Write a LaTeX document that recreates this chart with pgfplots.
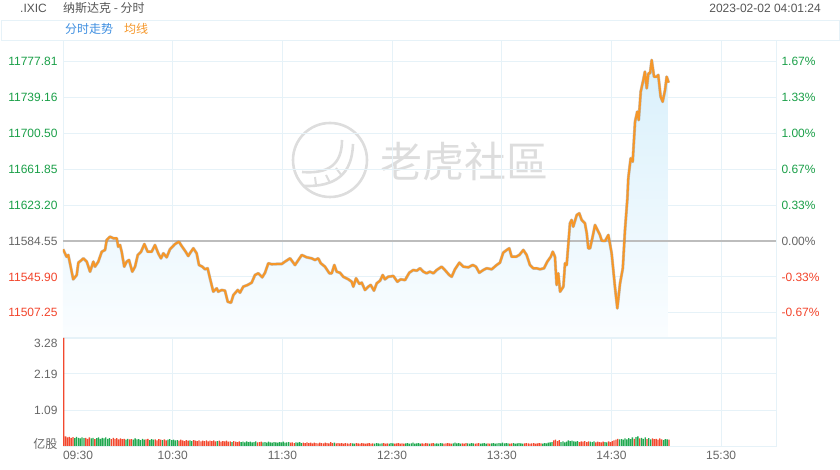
\documentclass[border=0pt]{standalone}
\usepackage{pgfplots}
\pgfplotsset{compat=1.18}
\usepackage{pgfplotstable}
\usepackage{fontspec}
\setmainfont{Liberation Sans}
\newfontfamily\cjk{Noto Sans CJK SC}
\definecolor{gridc}{HTML}{E6F2F8}
\definecolor{upg}{HTML}{1A9F48}
\definecolor{dnr}{HTML}{F2442B}
\definecolor{lblg}{HTML}{666666}
\definecolor{hdr}{HTML}{555555}
\definecolor{linec}{HTML}{F5972A}
\definecolor{volr}{HTML}{F2482E}
\definecolor{volg}{HTML}{1FA84F}
\definecolor{wm}{HTML}{DDDDDD}
\definecolor{blueT}{HTML}{3D8EE0}
\definecolor{zeroc}{HTML}{BDBDBD}
\definecolor{fillT}{HTML}{D9F0FB}
\definecolor{fillB}{HTML}{FAFDFF}
\newcommand\fs{\fontsize{12}{14}\selectfont}

\pgfplotstableread[row sep=\\]{
t p\\
0 11575.6\\ 2.0 11567.6\\ 2.9 11569.5\\ 5.6 11543.3\\ 7.5 11547.9\\ 8.4 11561.2\\
10.2 11564.1\\ 11.1 11565.9\\ 13.0 11562.3\\ 14.8 11551.5\\ 16.6 11562.3\\ 17.5 11556.9\\
19.3 11562.3\\ 21.2 11573.0\\ 23.0 11574.9\\ 23.9 11585.6\\ 25.7 11589.2\\ 27.5 11587.5\\
29.4 11587.5\\ 30.2 11578.4\\ 31.2 11580.2\\ 32.1 11573.0\\ 33.5 11556.9\\ 34.8 11562.3\\
36.1 11564.1\\ 37.9 11551.5\\ 39.4 11556.9\\ 40.9 11569.5\\ 42.7 11573.0\\ 44.5 11581.3\\
46.3 11573.0\\ 48.5 11573.0\\ 50.3 11580.2\\ 52.1 11571.3\\ 53.6 11565.9\\ 54.9 11571.3\\
56.7 11567.0\\ 58.5 11575.6\\ 61.3 11581.3\\ 63.4 11583.8\\ 64.9 11579.2\\ 67.1 11573.0\\
68.5 11568.4\\ 70.0 11573.0\\ 71.3 11576.7\\ 73.1 11571.3\\ 74.4 11558.7\\ 76.2 11556.9\\
77.7 11554.1\\ 79.1 11555.2\\ 80.4 11544.4\\ 82.2 11530.0\\ 84.1 11533.6\\ 84.9 11530.0\\
86.8 11531.8\\ 88.6 11531.1\\ 90.1 11519.2\\ 91.9 11518.1\\ 93.2 11526.4\\ 95.6 11531.8\\
96.8 11528.9\\ 98.6 11535.4\\ 101.0 11537.2\\ 103.2 11539.7\\ 105.0 11547.9\\ 106.8 11549.8\\
109.0 11545.5\\ 110.5 11550.4\\ 112.3 11560.6\\ 114.2 11559.5\\ 116.9 11559.8\\ 119.6 11559.8\\
121.4 11562.3\\ 124.2 11565.9\\ 126.9 11558.7\\ 130.6 11569.5\\ 133.3 11567.0\\ 136.0 11565.9\\
137.8 11564.1\\ 139.6 11565.9\\ 141.0 11560.6\\ 143.3 11556.9\\ 145.7 11549.8\\ 147.0 11549.8\\
148.4 11558.7\\ 149.7 11551.5\\ 151.5 11550.4\\ 153.3 11546.1\\ 156.1 11543.3\\ 157.9 11540.7\\
158.8 11535.4\\ 160.3 11544.4\\ 162.1 11538.3\\ 163.4 11539.7\\ 165.2 11531.8\\ 167.0 11535.4\\
168.3 11537.2\\ 170.1 11531.1\\ 171.6 11539.0\\ 173.4 11541.8\\ 174.9 11547.9\\ 176.1 11543.3\\
177.9 11546.1\\ 180.7 11546.9\\ 182.9 11540.7\\ 184.7 11543.3\\ 187.1 11542.5\\ 189.4 11550.4\\
191.6 11553.3\\ 193.5 11552.6\\ 195.3 11555.2\\ 197.1 11551.5\\ 198.9 11549.8\\ 200.7 11551.5\\
202.6 11549.8\\ 204.4 11553.3\\ 207.1 11556.9\\ 208.9 11553.3\\ 211.3 11547.9\\ 212.6 11546.1\\
214.4 11554.1\\ 216.8 11561.2\\ 219.0 11556.9\\ 221.7 11556.2\\ 224.1 11558.7\\ 225.9 11556.9\\
227.7 11550.4\\ 229.9 11553.3\\ 231.8 11555.2\\ 234.5 11554.1\\ 237.2 11558.7\\ 239.0 11561.2\\
240.8 11572.0\\ 242.7 11574.9\\ 244.1 11576.7\\ 245.4 11567.6\\ 247.8 11567.6\\ 249.6 11569.5\\
251.8 11574.9\\ 253.6 11569.5\\ 255.4 11558.7\\ 257.2 11555.2\\ 259.1 11555.2\\ 260.9 11554.1\\
263.1 11555.2\\ 264.9 11562.3\\ 266.8 11567.6\\ 267.9 11573.0\\ 269.1 11567.6\\ 270.0 11537.2\\
270.9 11549.8\\ 271.9 11530.0\\ 273.7 11535.4\\ 274.6 11560.6\\ 275.5 11558.7\\ 277.3 11603.6\\
278.2 11607.2\\ 279.1 11600.0\\ 281.0 11612.5\\ 282.4 11614.4\\ 283.7 11607.2\\ 285.5 11603.6\\
286.5 11592.8\\ 287.3 11576.7\\ 288.3 11576.7\\ 289.7 11589.2\\ 291.0 11601.8\\ 292.8 11594.6\\
293.7 11591.0\\ 294.7 11584.9\\ 296.5 11584.6\\ 298.3 11591.0\\ 300.1 11571.3\\ 301.9 11535.4\\
303.2 11512.1\\ 304.7 11539.0\\ 306.2 11555.2\\ 307.4 11596.4\\ 308.7 11630.5\\ 309.2 11652.1\\
310.5 11673.6\\ 311.6 11669.9\\ 312.9 11713.0\\ 314.1 11723.8\\ 314.9 11714.8\\ 316.0 11745.3\\
317.4 11757.9\\ 318.3 11766.8\\ 319.3 11749.0\\ 320.2 11765.1\\ 321.1 11765.1\\ 322.0 11779.4\\
323.3 11761.4\\ 324.7 11761.4\\ 325.6 11763.3\\ 326.9 11739.9\\ 328.0 11734.5\\ 329.3 11747.1\\
330.2 11761.4\\ 331.3 11755.0\\
}\price

\pgfplotstableread[row sep=\\]{
t v c\\
0 3.28 1\\ 1 .29 1\\ 2 .26 1\\ 3 .28 1\\ 4 .25 1\\ 5 .27 1\\ 6 .24 0\\ 7 .28 0\\ 8 .25 0\\ 9 .23 0\\
10 .26 0\\ 11 .24 0\\ 12 .25 1\\ 13 .22 1\\ 14 .26 1\\ 15 .23 0\\ 16 .25 0\\ 17 .21 1\\ 18 .24 0\\ 19 .26 0\\
20 .22 0\\ 21 .25 0\\ 22 .23 0\\ 23 .26 0\\ 24 .22 0\\ 25 .24 0\\ 26 .21 1\\ 27 .25 1\\ 28 .22 1\\ 29 .24 1\\
30 .20 1\\ 31 .23 1\\ 32 .21 1\\ 33 .22 1\\ 34 .19 0\\ 35 .22 0\\ 36 .20 1\\ 37 .21 1\\ 38 .19 0\\ 39 .23 0\\
40 .20 0\\ 41 .21 0\\ 42 .18 0\\ 43 .22 0\\ 44 .19 0\\ 45 .20 1\\ 46 .22 1\\ 47 .18 0\\ 48 .21 0\\ 49 .19 0\\
50 .20 1\\ 51 .17 1\\ 52 .21 1\\ 53 .19 1\\ 54 .18 0\\ 55 .20 1\\ 56 .17 1\\ 57 .19 0\\ 58 .21 0\\ 59 .18 0\\
60 .19 0\\ 61 .17 0\\ 62 .18 0\\ 63 .16 1\\ 64 .19 1\\ 65 .17 1\\ 66 .15 1\\ 67 .18 1\\ 68 .16 1\\ 69 .17 0\\
70 .15 0\\ 71 .18 1\\ 72 .16 1\\ 73 .15 1\\ 74 .17 1\\ 75 .14 1\\ 76 .16 1\\ 77 .15 1\\ 78 .17 1\\ 79 .14 1\\
80 .16 1\\ 81 .15 1\\ 82 .17 1\\ 83 .14 1\\ 84 .15 0\\ 85 .16 1\\ 86 .13 1\\ 87 .15 1\\ 88 .14 1\\ 89 .16 1\\
90 .13 1\\ 91 .14 1\\ 92 .12 0\\ 93 .15 1\\ 94 .13 1\\ 95 .12 1\\ 96 .14 1\\ 97 .12 0\\ 98 .13 0\\ 99 .11 0\\
100 .14 0\\ 101 .12 0\\ 102 .13 0\\ 103 .11 0\\ 104 .12 0\\ 105 .14 0\\ 106 .11 1\\ 107 .12 1\\ 108 .13 1\\ 109 .11 0\\
110 .12 0\\ 111 .10 0\\ 112 .13 0\\ 113 .11 0\\ 114 .10 0\\ 115 .12 0\\ 116 .11 0\\ 117 .10 0\\ 118 .12 0\\ 119 .11 0\\
120 .13 0\\ 121 .10 0\\ 122 .11 0\\ 123 .12 0\\ 124 .10 1\\ 125 .11 1\\ 126 .09 1\\ 127 .11 0\\ 128 .10 0\\ 129 .12 0\\
130 .09 0\\ 131 .10 1\\ 132 .09 1\\ 133 .11 1\\ 134 .09 1\\ 135 .10 1\\ 136 .08 1\\ 137 .10 1\\ 138 .09 1\\ 139 .08 1\\
140 .10 1\\ 141 .09 1\\ 142 .08 1\\ 143 .10 1\\ 144 .09 1\\ 145 .08 1\\ 146 .12 1\\ 147 .09 1\\ 148 .10 0\\ 149 .08 1\\
150 .09 1\\ 151 .08 1\\ 152 .09 1\\ 153 .07 1\\ 154 .09 1\\ 155 .08 1\\ 156 .07 1\\ 157 .09 1\\ 158 .08 0\\ 159 .07 0\\
160 .09 1\\ 161 .08 1\\ 162 .07 1\\ 163 .09 1\\ 164 .08 1\\ 165 .07 1\\ 166 .08 1\\ 167 .09 1\\ 168 .07 1\\ 169 .08 1\\
170 .07 0\\ 171 .09 0\\ 172 .08 0\\ 173 .07 0\\ 174 .08 0\\ 175 .09 1\\ 176 .07 1\\ 177 .08 1\\ 178 .07 0\\ 179 .09 0\\
180 .08 0\\ 181 .07 1\\ 182 .08 1\\ 183 .09 1\\ 184 .07 1\\ 185 .08 1\\ 186 .07 1\\ 187 .08 0\\ 188 .09 0\\ 189 .07 0\\
190 .08 0\\ 191 .10 0\\ 192 .07 0\\ 193 .08 0\\ 194 .09 0\\ 195 .07 0\\ 196 .08 1\\ 197 .07 1\\ 198 .09 1\\ 199 .08 1\\
200 .07 0\\ 201 .08 1\\ 202 .09 1\\ 203 .07 0\\ 204 .08 0\\ 205 .07 0\\ 206 .09 0\\ 207 .08 0\\ 208 .07 1\\ 209 .08 1\\
210 .09 1\\ 211 .08 1\\ 212 .07 1\\ 213 .08 0\\ 214 .10 0\\ 215 .08 0\\ 216 .09 0\\ 217 .07 0\\ 218 .08 1\\ 219 .07 1\\
220 .09 1\\ 221 .08 0\\ 222 .07 0\\ 223 .09 0\\ 224 .08 0\\ 225 .07 1\\ 226 .08 1\\ 227 .09 1\\ 228 .07 0\\ 229 .08 0\\
230 .09 0\\ 231 .07 0\\ 232 .08 1\\ 233 .07 1\\ 234 .08 0\\ 235 .09 0\\ 236 .07 0\\ 237 .08 0\\ 238 .09 0\\ 239 .08 0\\
240 .10 0\\ 241 .08 0\\ 242 .09 0\\ 243 .08 0\\ 244 .07 1\\ 245 .08 1\\ 246 .09 0\\ 247 .07 0\\ 248 .08 0\\ 249 .09 0\\
250 .08 0\\ 251 .07 0\\ 252 .08 1\\ 253 .09 1\\ 254 .08 1\\ 255 .07 1\\ 256 .08 1\\ 257 .09 1\\ 258 .07 1\\ 259 .08 1\\
260 .09 1\\ 261 .08 1\\ 262 .07 0\\ 263 .09 0\\ 264 .08 0\\ 265 .10 0\\ 266 .11 0\\ 267 .12 0\\ 268 .17 1\\ 269 .19 1\\
270 .15 1\\ 271 .18 1\\ 272 .12 0\\ 273 .14 0\\ 274 .11 0\\ 275 .13 0\\ 276 .17 0\\ 277 .15 0\\ 278 .16 0\\ 279 .14 0\\
280 .13 0\\ 281 .15 0\\ 282 .12 1\\ 283 .14 1\\ 284 .13 1\\ 285 .15 1\\ 286 .12 1\\ 287 .14 1\\ 288 .13 0\\ 289 .12 0\\
290 .14 0\\ 291 .11 1\\ 292 .13 1\\ 293 .12 1\\ 294 .11 1\\ 295 .13 1\\ 296 .12 0\\ 297 .11 0\\ 298 .14 1\\ 299 .12 1\\
300 .15 1\\ 301 .17 1\\ 302 .19 1\\ 303 .22 1\\ 304 .20 0\\ 305 .21 0\\ 306 .19 0\\ 307 .23 0\\ 308 .20 0\\ 309 .24 0\\
310 .21 0\\ 311 .26 0\\ 312 .22 1\\ 313 .27 0\\ 314 .29 0\\ 315 .23 1\\ 316 .25 0\\ 317 .22 0\\ 318 .26 0\\ 319 .21 1\\
320 .24 0\\ 321 .20 0\\ 322 .23 1\\ 323 .21 1\\ 324 .22 1\\ 325 .19 1\\ 326 .23 1\\ 327 .20 1\\ 328 .18 0\\ 329 .21 0\\
330 .20 0\\ 331 .19 1\\
}\vol

\pgfplotsset{
  base/.style={scale only axis, anchor=south west, width=713pt,
    xmin=0, xmax=390, scaled x ticks=false, scaled y ticks=false,
    axis line style={draw=gridc, line width=0.8pt},
    grid style={draw=gridc, line width=0.8pt},
    major tick length=0pt,
    tick label style={font=\fs, text=lblg}},
}

\begin{document}
\begin{tikzpicture}[x=1pt,y=1pt]
\path[use as bounding box] (0,0) rectangle (840,470);
% header
\draw[gridc, line width=0.8pt] (1,450) rectangle (839,430);
\node[anchor=west, inner sep=0, text=hdr] at (20,462) {\fs .IXIC};
\node[anchor=west, inner sep=0, text=hdr] at (63,462) {\fs\cjk 纳斯达克 - 分时};
\node[anchor=east, inner sep=0, text=hdr] at (821,462) {\fs 2023-02-02 04:01:24};
\node[anchor=west, inner sep=0, text=blueT] at (65,441) {\fs\cjk 分时走势};
\node[anchor=west, inner sep=0, text=linec] at (124,441) {\fs\cjk 均线};
% watermark
\draw[wm, line width=2.6pt] (330,310) circle (37);
\draw[wm, line width=2.6pt] (353,326) .. controls (352,295) and (335,283) .. (303,284);
\draw[wm, line width=2.6pt] (342,330) .. controls (342,305) and (328,296) .. (302,298);
\draw[wm, line width=2pt] (336,302) -- (342,294) (326,295) -- (330,287) (315,293) -- (316,285);
\node[text=wm, inner sep=0] at (464,308) {\fontsize{42}{42}\selectfont\cjk 老虎社區};

% price panel
\begin{axis}[base, at={(63pt,133pt)}, height=297pt,
  ymin=11481.2, ymax=11800.95,
  xtick={60,120,...,360}, xticklabels={},
  xmajorgrids, ymajorgrids,
  ytick={11507.25,11545.90,11584.55,11623.20,11661.85,11700.50,11739.16,11777.81},
  yticklabels={\textcolor{dnr}{11507.25},\textcolor{dnr}{11545.90},\textcolor{lblg}{11584.55},
    \textcolor{upg}{11623.20},\textcolor{upg}{11661.85},\textcolor{upg}{11700.50},
    \textcolor{upg}{11739.16},\textcolor{upg}{11777.81}},
  yticklabel style={xshift=-2pt},
]
\addplot[draw=none, top color=fillT, bottom color=fillB] table[x=t,y=p] {\price}
  -- (331.3,11481.2) -- (0,11481.2) -- cycle;
\addplot[zeroc, line width=1.1pt] coordinates {(0,11584.55) (390,11584.55)};
\addplot[gray, opacity=0.45, line width=3pt, line join=round] table[x=t,y=p] {\price};
\addplot[linec, line width=2.1pt, line join=round] table[x=t,y=p] {\price};
\end{axis}

% right percentage labels
\begin{axis}[base, at={(63pt,133pt)}, height=297pt,
  ymin=11481.2, ymax=11800.95,
  hide x axis, axis y line*=right, axis line style={draw=none},
  ytick={11507.25,11545.90,11584.55,11623.20,11661.85,11700.50,11739.16,11777.81},
  yticklabels={\textcolor{dnr}{-0.67\%},\textcolor{dnr}{-0.33\%},\textcolor{lblg}{0.00\%},
    \textcolor{upg}{0.33\%},\textcolor{upg}{0.67\%},\textcolor{upg}{1.00\%},
    \textcolor{upg}{1.33\%},\textcolor{upg}{1.67\%}},
  yticklabel style={anchor=west, xshift=2pt},
]
\end{axis}

% volume panel
\begin{axis}[base, at={(63pt,24pt)}, height=108pt,
  ymin=0, ymax=3.28,
  xtick={0,60,...,360},
  xticklabels={\makebox[0pt][l]{09:30},10:30,11:30,12:30,13:30,14:30,15:30},
  xticklabel style={yshift=-2pt},
  xmajorgrids, ymajorgrids,
  ytick={0,1.09,2.19},
  yticklabels={\raisebox{5pt}{\cjk 亿股},1.09,2.19},
  yticklabel style={xshift=-2pt},
  extra y ticks={3.28},
  extra y tick labels={3.28},
  extra y tick style={grid=major, yticklabel style={yshift=-5pt}},
]
\addplot[ybar, bar width=1.3pt, bar shift=0.8pt, fill=volr, draw=none,
  restrict expr to domain={\thisrow{c}}{0.5:1.5}] table[x=t,y=v] {\vol};
\addplot[ybar, bar width=1.3pt, bar shift=0.8pt, fill=volg, draw=none,
  restrict expr to domain={\thisrow{c}}{-0.5:0.5}] table[x=t,y=v] {\vol};
\end{axis}
\end{tikzpicture}
\end{document}
